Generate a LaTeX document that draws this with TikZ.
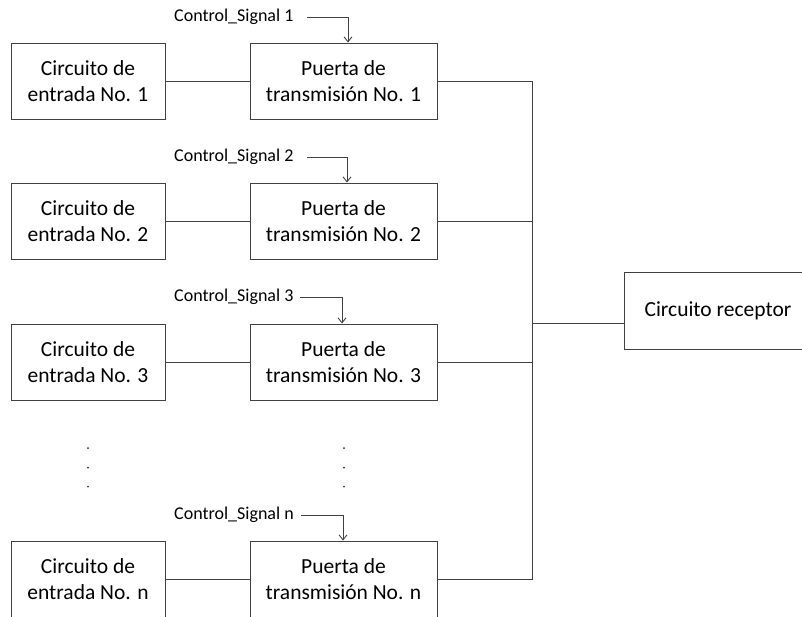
\documentclass[tikz,border=0pt]{standalone}
\usepackage{fontspec}
\setmainfont{Carlito}
\usetikzlibrary{arrows.meta}
\begin{document}
\begin{tikzpicture}[x=1pt,y=-1pt,
  box/.style={draw=black!75, line width=0.9pt, align=center, inner sep=0pt,
              font=\fontsize{21.5}{26.5}\selectfont, minimum height=76pt},
  inbox/.style={box, minimum width=154pt},
  gatebox/.style={box, minimum width=187pt},
  wire/.style={draw=black!75, line width=0.9pt},
  sig/.style={wire, -{Straight Barb[length=5pt,width=8pt]}},
  ctl/.style={font=\fontsize{18}{22}\selectfont, anchor=west, inner sep=0pt},
  dot/.style={fill=black!80, circle, inner sep=0pt, minimum size=2pt}]
\useasboundingbox (0,0) rectangle (802,616);

% input circuits
\node[inbox] (in1) at (88,81)  {Circuito de\\entrada No. 1};
\node[inbox] (in2) at (88,221) {Circuito de\\entrada No. 2};
\node[inbox] (in3) at (88,362) {Circuito de\\entrada No. 3};
\node[inbox] (inn) at (88,579) {Circuito de\\entrada No. n};

% transmission gates
\node[gatebox] (g1) at (343.5,81)  {Puerta de\\transmisión No. 1};
\node[gatebox] (g2) at (343.5,221) {Puerta de\\transmisión No. 2};
\node[gatebox] (g3) at (343.5,362) {Puerta de\\transmisión No. 3};
\node[gatebox] (gn) at (343.5,579) {Puerta de\\transmisión No. n};

% receiver
\node[box, minimum width=188pt, minimum height=77pt] (rx) at (718,310.5) {Circuito receptor};

% control signal labels
\node[ctl] (cs1) at (174,17)  {Control\_Signal 1};
\node[ctl] (cs2) at (174,157) {Control\_Signal 2};
\node[ctl] (cs3) at (174,297) {Control\_Signal 3};
\node[ctl] (csn) at (174,515) {Control\_Signal n};

\coordinate (k1) at (307,17);
\coordinate (k2) at (307,157);
\coordinate (k3) at (300,297);
\coordinate (kn) at (301,515);

\draw[sig] (k1) -| ([xshift=4.5]g1.north);
\draw[sig] (k2) -| ([xshift=3.5]g2.north);
\draw[sig] (k3) -| ([xshift=-1.5]g3.north);
\draw[sig] (kn) -| ([xshift=-0.5]gn.north);

% input to gate
\draw[wire] (in1) -- (g1);
\draw[wire] (in2) -- (g2);
\draw[wire] (in3) -- (g3);
\draw[wire] (inn) -- (gn);

% collecting bus
\coordinate (bus) at (532,323);
\draw[wire] (g1.east) -| (bus);
\draw[wire] (g2.east) -| (bus);
\draw[wire] (g3.east) -| (bus);
\draw[wire] (gn.east) -| (bus);
\draw[wire] (bus) -- (bus -| rx.west);

% omitted rows
\foreach \yy in {448,467.5,486.5} {
  \node[dot] at (88,\yy) {};
  \node[dot] at (344,\yy) {};
}
\end{tikzpicture}
\end{document}
